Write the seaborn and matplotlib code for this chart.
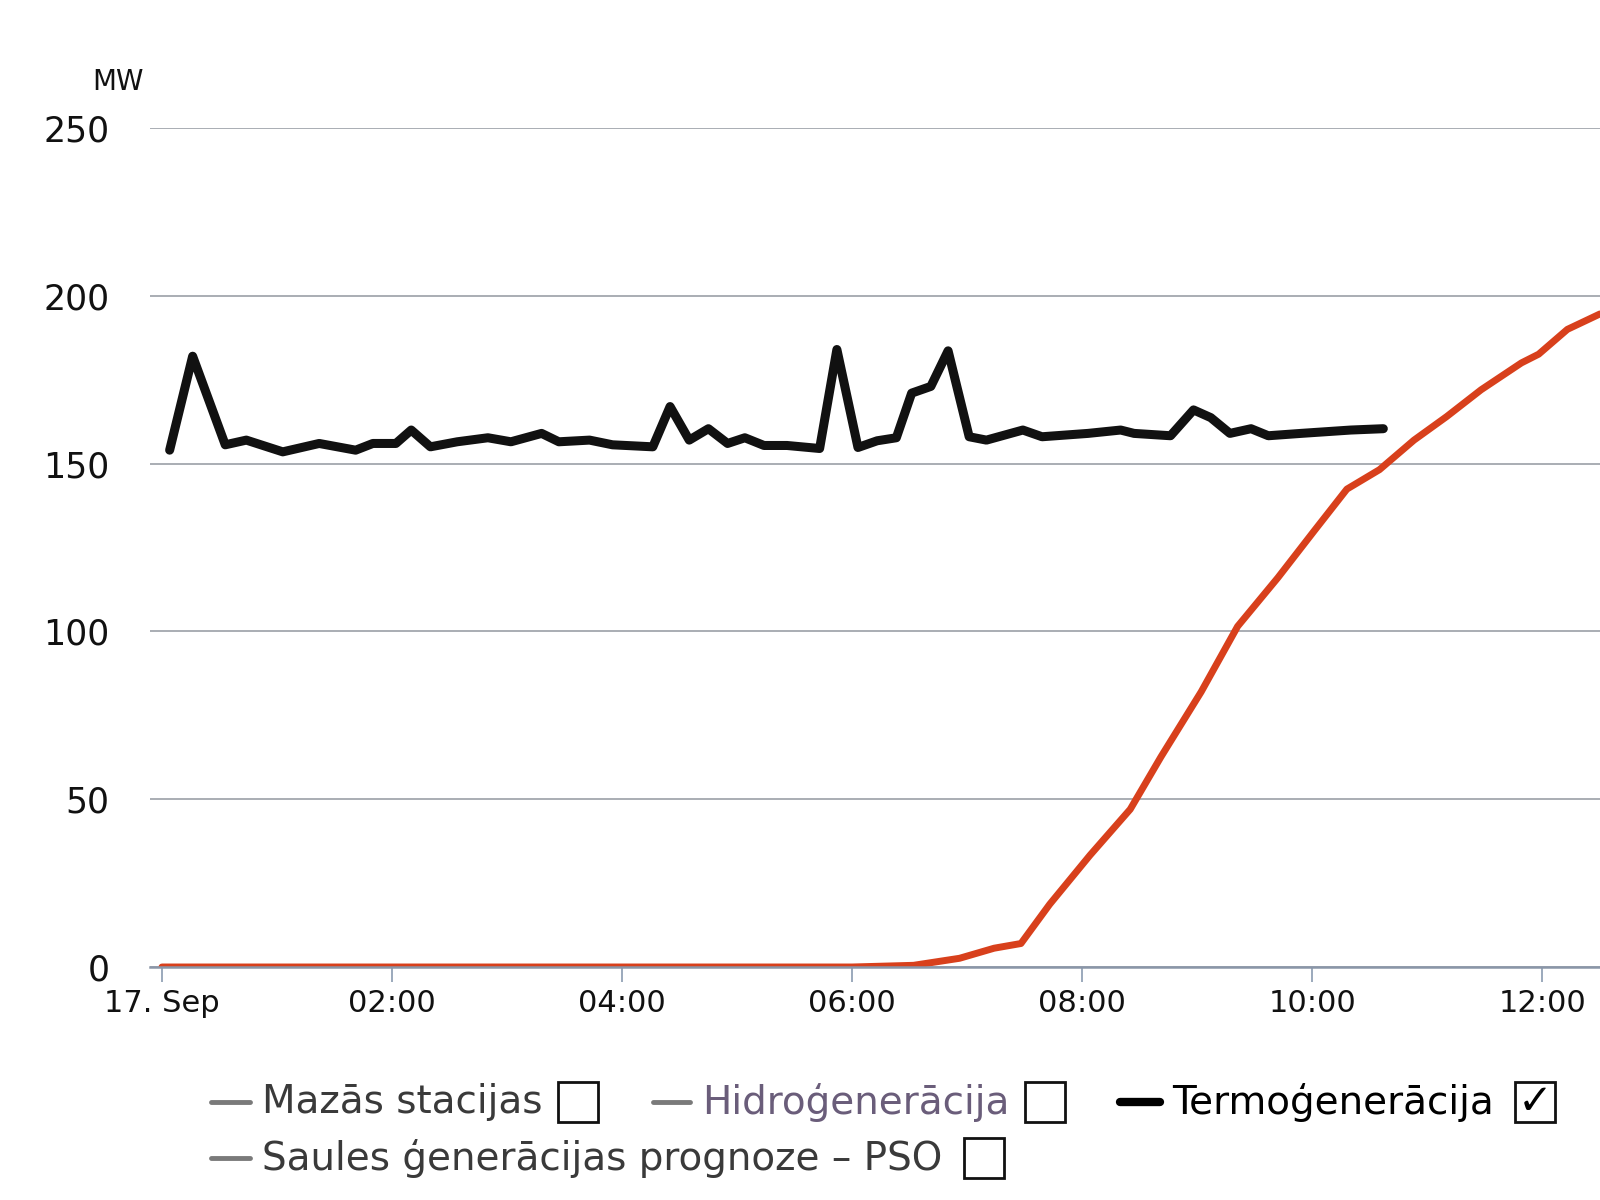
import numpy as np
import pandas as pd
import matplotlib
matplotlib.use("Agg")
import matplotlib.pyplot as plt
import seaborn as sns
from matplotlib.lines import Line2D
from matplotlib.patches import Rectangle

sns.set_style("white")
plt.rcParams['font.family'] = ['DejaVu Sans']

# ---- data ----
termo_minutes = [4, 16, 33, 44, 63, 82, 101, 110, 122, 130, 140, 154, 170, 182, 198, 207,
                 223, 235, 256, 265, 275, 285, 295, 304, 314, 326, 343, 352, 363, 373,
                 383, 391, 401, 410, 421, 430, 449, 459, 483, 500, 507, 526, 538, 547,
                 557, 568, 577, 594, 620, 637]
termo_mw = [154, 182, 155.6, 157, 153.5, 156, 154, 156, 156, 160, 155, 156.5, 157.7, 156.5,
            159, 156.5, 157, 155.6, 155, 167, 157, 160.4, 156, 157.7, 155.4, 155.4, 154.5,
            184, 154.8, 156.8, 157.7, 171, 173, 183.6, 158, 157, 160, 158, 159, 160, 159,
            158.3, 166, 163.7, 159, 160.4, 158.3, 159, 160, 160.4]

solar_minutes = [0, 360, 392, 416, 434, 448, 463, 484, 505, 521, 542, 561, 582, 601, 618,
                 635, 653, 670, 688, 709, 718, 733, 750]
solar_mw = [0, 0, 0.5, 2.6, 5.6, 7, 18.7, 33.3, 47, 62.6, 82, 101.5, 116, 130, 142.4,
            148.2, 157, 164, 172, 180, 182.6, 190, 194.6]

tick_hours = [0, 2, 4, 6, 8, 10, 12]
tick_labels = ["17. Sep", "02:00", "04:00", "06:00", "08:00", "10:00", "12:00"]
y_ticks = [0, 50, 100, 150, 200, 250]

legend_items = ["Mazās stacijas", "Hidroģenerācija", "Termoģenerācija",
                "Saules ģenerācijas prognoze – PSO"]
legend_checked = [False, False, True, False]

df_termo = pd.DataFrame({"h": np.array(termo_minutes) / 60.0, "mw": termo_mw})
df_solar = pd.DataFrame({"h": np.array(solar_minutes) / 60.0, "mw": solar_mw})

W, H = 1600, 1200
fig = plt.figure(figsize=(16, 12), dpi=100)
fig.patch.set_facecolor("white")

ax = fig.add_axes([150 / W, 1 - 967 / H, 1450 / W, (967 - 128) / H])
ax.set_facecolor("white")

sns.lineplot(data=df_termo, x="h", y="mw", ax=ax, color="#111111", linewidth=6.5,
             estimator=None, legend=False, solid_capstyle="round", solid_joinstyle="round")
sns.lineplot(data=df_solar, x="h", y="mw", ax=ax, color="#d8401c", linewidth=5,
             estimator=None, legend=False, solid_capstyle="round", solid_joinstyle="round")

ax.set_xlim(-0.104, 12.5)
ax.set_ylim(0, 250)
ax.set_xlabel("")
ax.set_ylabel("")

ax.set_xticks(tick_hours)
ax.set_xticklabels(tick_labels)
ax.set_yticks(y_ticks)
ax.set_yticklabels([str(v) for v in y_ticks])

ax.yaxis.grid(True, color="#a3a7ae", linewidth=1.3)
ax.xaxis.grid(False)
for s in ["top", "right", "left"]:
    ax.spines[s].set_visible(False)
ax.spines["bottom"].set_color("#8a96a8")
ax.spines["bottom"].set_linewidth(1.8)

ax.tick_params(axis="x", bottom=True, length=11, width=1.2, color="#8a9bb0",
               pad=5, labelsize=22, labelcolor="#111111")
ax.tick_params(axis="y", left=False, length=0, pad=29, labelsize=25, labelcolor="#111111")

fig.text(118 / W, 1 - 82 / H, "MW", ha="center", va="center", fontsize=20, color="#111111")

# ---- legend (drawn as in the original, with checkboxes) ----
rows = [1102, 1102, 1102, 1158]
line_x = [(211, 250), (653, 690), (1120, 1160), (211, 250)]
text_x = [262, 702, 1172, 262]
box_x = [558, 1025, 1515, 964]
text_col = ["#3a3a3a", "#6a5d7a", "#000000", "#3a3a3a"]
sym_col = ["#7a7a7a", "#7a7a7a", "#000000", "#7a7a7a"]
sym_lw = [3.5, 3.5, 6, 3.5]
box = 40
for i, label in enumerate(legend_items):
    yc = 1 - rows[i] / H
    fig.add_artist(Line2D([line_x[i][0] / W, line_x[i][1] / W], [yc, yc],
                          transform=fig.transFigure, color=sym_col[i], lw=sym_lw[i]))
    fig.text(text_x[i] / W, yc, label, ha="left", va="center", fontsize=28,
             color=text_col[i])
    fig.add_artist(Rectangle((box_x[i] / W, yc - (box / 2) / H), box / W, box / H,
                             transform=fig.transFigure, fill=False,
                             edgecolor="#111111", linewidth=2))
    if legend_checked[i]:
        fig.text((box_x[i] + box / 2) / W, yc, "✓", ha="center", va="center",
                 fontsize=30, fontweight="bold", color="#000000")

fig.savefig("out.png", dpi=100, facecolor="white")
